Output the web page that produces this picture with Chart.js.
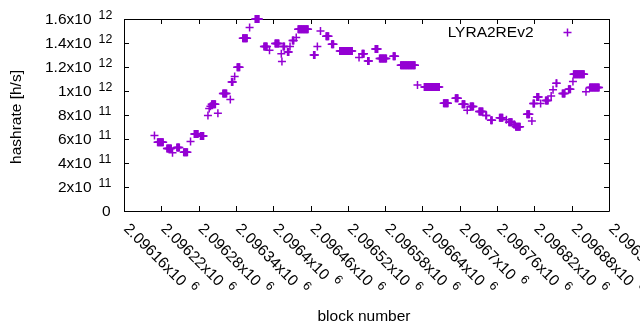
<!DOCTYPE html>
<html>
<head>
<meta charset="utf-8">
<script src="https://cdn.jsdelivr.net/npm/chart.js@4.4.0/dist/chart.umd.min.js"></script>
<style>
  html, body { margin: 0; padding: 0; background: #fff; }
  #wrap { width: 640px; height: 330px; }
</style>
</head>
<body>
<div id="wrap"><canvas id="hashChart" width="640" height="330"></canvas></div>
<script>
// runs of equal hashrate: first block, last block, hashrate
const runStart = [
  2096209, 2096214, 2096229, 2096238, 2096245, 2096256, 2096267, 2096273, 2096283, 2096295,
  2096297, 2096299, 2096301, 2096311, 2096319, 2096331, 2096333, 2096338, 2096342, 2096351,
  2096362, 2096371, 2096385, 2096394, 2096403, 2096413, 2096414, 2096416, 2096423, 2096427,
  2096431, 2096437, 2096440, 2096465, 2096471, 2096476, 2096485, 2096494, 2096507, 2096538,
  2096543, 2096552, 2096564, 2096571, 2096593, 2096605, 2096632, 2096643, 2096674, 2096693,
  2096704, 2096712, 2096717, 2096731, 2096742, 2096750, 2096764, 2096775, 2096779, 2096787,
  2096790, 2096808, 2096816, 2096818, 2096824, 2096830, 2096838, 2096847, 2096850, 2096855,
  2096865, 2096875, 2096882, 2096883, 2096903, 2096909
];
const runEnd = [
  2096209, 2096223, 2096236, 2096238, 2096249, 2096262, 2096267, 2096279, 2096288, 2096295,
  2096297, 2096299, 2096307, 2096311, 2096325, 2096331, 2096335, 2096338, 2096346, 2096358,
  2096362, 2096377, 2096390, 2096394, 2096409, 2096413, 2096414, 2096418, 2096425, 2096427,
  2096433, 2096437, 2096456, 2096467, 2096471, 2096476, 2096489, 2096497, 2096527, 2096538,
  2096546, 2096554, 2096568, 2096582, 2096596, 2096628, 2096632, 2096667, 2096681, 2096697,
  2096708, 2096712, 2096722, 2096737, 2096743, 2096752, 2096769, 2096775, 2096784, 2096788,
  2096797, 2096812, 2096816, 2096820, 2096827, 2096830, 2096842, 2096847, 2096850, 2096856,
  2096869, 2096878, 2096882, 2096900, 2096903, 2096924
];
const runRate = [
  6.30e11, 5.72e11, 5.20e11, 4.85e11, 5.30e11, 4.90e11, 5.80e11, 6.42e11, 6.25e11, 7.95e11,
  8.55e11, 8.72e11, 8.90e11, 8.15e11, 9.80e11, 9.30e11, 1.075e12, 1.12e12, 1.197e12, 1.44e12,
  1.53e12, 1.60e12, 1.37e12, 1.34e12, 1.395e12, 1.31e12, 1.245e12, 1.37e12, 1.325e12, 1.37e12,
  1.42e12, 1.445e12, 1.515e12, 1.30e12, 1.37e12, 1.50e12, 1.456e12, 1.39e12, 1.333e12, 1.28e12,
  1.31e12, 1.25e12, 1.35e12, 1.27e12, 1.29e12, 1.214e12, 1.05e12, 1.033e12, 8.97e11, 9.40e11,
  8.90e11, 8.40e11, 8.70e11, 8.30e11, 7.95e11, 7.56e11, 7.78e11, 7.60e11, 7.40e11, 7.20e11,
  7.03e11, 8.06e11, 7.50e11, 8.95e11, 9.50e11, 8.95e11, 9.20e11, 9.58e11, 1.01e12, 1.064e12,
  9.80e11, 1.015e12, 1.08e12, 1.14e12, 9.94e11, 1.03e12
];

const xTicks = [2096160, 2096220, 2096280, 2096340, 2096400, 2096460, 2096520,
                2096580, 2096640, 2096700, 2096760, 2096820, 2096880, 2096940];
const yTicks = [0, 2e11, 4e11, 6e11, 8e11, 1e12, 1.2e12, 1.4e12, 1.6e12];

const seriesName = 'LYRA2REv2';
const xTitle = 'block number';
const yTitle = 'hashrate [h/s]';
const purple = '#9400D3';
const fontFamily = '"Liberation Sans", Arial, sans-serif';
const mainFont = '15.5px ' + fontFamily;
const supFont = '12.4px ' + fontFamily;

// one point per block inside each run
const points = [];
runStart.forEach((s, i) => {
  for (let b = s; b <= runEnd[i]; b++) points.push({ x: b, y: runRate[i] });
});

// "1.6x10^12" style label split into mantissa and exponent
function sciParts(v) {
  if (v === 0) return ['0', ''];
  const e = Math.floor(Math.log10(v) + 1e-9);
  const m = +(v / Math.pow(10, e)).toFixed(5);
  return [m + 'x10', String(e)];
}

const gnuplotFrame = {
  id: 'gnuplotFrame',
  beforeDatasetsDraw(chart) {
    const { ctx, chartArea: a, scales: { x, y } } = chart;
    ctx.save();

    // border and inward ticks on all sides
    ctx.strokeStyle = '#000';
    ctx.lineWidth = 1;
    ctx.beginPath();
    ctx.rect(a.left + 0.5, a.top + 0.5, a.right - a.left, a.bottom - a.top);
    yTicks.forEach(v => {
      const py = Math.round(y.getPixelForValue(v)) + 0.5;
      ctx.moveTo(a.left, py); ctx.lineTo(a.left + 5, py);
      ctx.moveTo(a.right, py); ctx.lineTo(a.right - 5, py);
    });
    xTicks.forEach(v => {
      const px = Math.round(x.getPixelForValue(v)) + 0.5;
      ctx.moveTo(px, a.bottom); ctx.lineTo(px, a.bottom - 5);
      ctx.moveTo(px, a.top); ctx.lineTo(px, a.top + 5);
    });
    ctx.stroke();

    ctx.fillStyle = '#000';
    ctx.textBaseline = 'middle';

    // y tick labels
    yTicks.forEach(v => {
      const py = y.getPixelForValue(v) + 1;
      const [main, sup] = sciParts(v);
      ctx.font = mainFont;
      ctx.textAlign = 'right';
      if (!sup) {
        ctx.fillText(main, 110.5, py);
        return;
      }
      ctx.fillText(main, 91.5, py);
      ctx.textAlign = 'left';
      ctx.font = supFont;
      ctx.fillText(sup, 98.5, py - 4.5);
    });

    // x tick labels, rotated 45 degrees, starting at the tick
    xTicks.forEach(v => {
      const px = x.getPixelForValue(v);
      const [main, sup] = sciParts(v);
      ctx.save();
      ctx.translate(px + 2, 226.5);
      ctx.rotate(Math.PI / 4);
      ctx.textAlign = 'left';
      ctx.font = mainFont;
      ctx.fillText(main, 0, 0);
      const w = ctx.measureText(main).width;
      ctx.font = supFont;
      ctx.fillText(sup, w + 6.5, -6.5);
      ctx.restore();
    });

    // axis titles
    ctx.font = mainFont;
    ctx.textAlign = 'center';
    ctx.fillText(xTitle, 364, 317);
    ctx.save();
    ctx.translate(16.5, (a.top + a.bottom) / 2 + 2);
    ctx.rotate(-Math.PI / 2);
    ctx.fillText(yTitle, 0, 0);
    ctx.restore();

    // key, top right inside the plot
    ctx.textAlign = 'right';
    ctx.fillText(seriesName, 533.5, 32.5);
    ctx.strokeStyle = purple;
    ctx.lineWidth = 1.5;
    ctx.beginPath();
    ctx.moveTo(563.5, 32.5); ctx.lineTo(571.5, 32.5);
    ctx.moveTo(567.5, 28.5); ctx.lineTo(567.5, 36.5);
    ctx.stroke();

    ctx.restore();
  }
};

const chart = new Chart(document.getElementById('hashChart'), {
  type: 'scatter',
  data: {
    datasets: [{
      label: seriesName,
      data: points,
      pointStyle: 'cross',
      pointRadius: 4,
      pointBorderWidth: 1.5,
      pointBorderColor: purple,
      pointBackgroundColor: purple,
      clip: false
    }]
  },
  options: {
    responsive: false,
    animation: false,
    devicePixelRatio: 1,
    layout: { padding: { left: 124, right: 31, top: 19, bottom: 119 } },
    scales: {
      x: { type: 'linear', min: 2096160, max: 2096940, display: false },
      y: { type: 'linear', min: 0, max: 1.6e12, display: false }
    },
    plugins: {
      legend: { display: false },
      tooltip: { enabled: false }
    }
  },
  plugins: [gnuplotFrame]
});
</script>
</body>
</html>
